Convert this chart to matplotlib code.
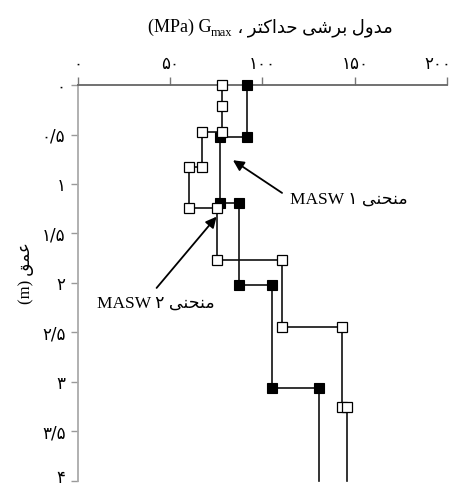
import matplotlib as mp
mp.use('Agg')
import matplotlib.pyplot as plt
from matplotlib.transforms import IdentityTransform, ScaledTranslation

plt.rcParams['font.family'] = ['Liberation Serif', 'DejaVu Sans']

# step profiles: shear modulus (MPa) against depth (m)
masw1_gmax = [91.4, 91.4, 77, 77, 87.4, 87.4, 105, 105, 130.8, 130.8]
masw1_depth = [0, 0.53, 0.53, 1.19, 1.19, 2.02, 2.02, 3.06, 3.06, 4.0]
masw2_gmax = [78, 78, 78, 67, 67, 60.3, 60.3, 75.1, 75.1, 110.4, 110.4, 142.9, 142.9, 146, 146]
masw2_depth = [0, 0.21, 0.47, 0.47, 0.83, 0.83, 1.24, 1.24, 1.77, 1.77, 2.44, 2.44, 3.25, 3.25, 4.0]

x_ticks = [0, 50, 100, 150, 200]
x_labels = ['\u06f0', '\u06f5\u06f0', '\u06f1\u06f0\u06f0', '\u06f1\u06f5\u06f0', '\u06f2\u06f0\u06f0']
y_ticks = [0, 0.5, 1, 1.5, 2, 2.5, 3, 3.5, 4]
y_labels = ['\u06f0', '\u06f0/\u06f5', '\u06f1', '\u06f1/\u06f5', '\u06f2', '\u06f2/\u06f5',
            '\u06f3', '\u06f3/\u06f5', '\u06f4']

# persian words written in presentation forms, left-to-right visual order
w_curve = '\ufef0\ufee8\ufea4\ufee8\ufee3'          # منحنی
w_depth = '\ufed6\ufee4\ufecb'                      # عمق
w_title = ('\u060c \ufeae\ufe98\ufb90\ufe8d\ufeaa\ufea3 '   # ، حداکثر
           '\ufef0\ufeb7\ufeae\ufe91 '                   # برشی
           '\ufedd\ufeed\ufeaa\ufee3')                   # مدول

fig = plt.figure(figsize=(4.55, 4.86), dpi=100)
ax = fig.add_axes([0.1714, 0.0103, 0.8110, 0.8148])

ax.plot(masw1_gmax, masw1_depth, '-s', color='#111111', lw=1.2, ms=6.8,
        mfc='black', mec='black', mew=0.8, markevery=list(range(len(masw1_gmax) - 1)),
        clip_on=False, zorder=3)
ax.plot(masw2_gmax, masw2_depth, '-s', color='#111111', lw=1.2, ms=6.8,
        mfc='white', mec='black', mew=0.9, markevery=list(range(len(masw2_gmax) - 1)),
        clip_on=False, zorder=4)

ax.set_xlim(0, 200)
ax.set_ylim(4, 0)
ax.xaxis.tick_top()
ax.set_xticks(x_ticks)
ax.set_xticklabels(x_labels, fontsize=12, family='DejaVu Sans')
ax.set_yticks(y_ticks)
ax.set_yticklabels(y_labels, fontsize=12, family='DejaVu Sans')
ax.tick_params(axis='x', direction='out', length=6, width=1, color='#777777', pad=3)
ax.tick_params(axis='y', direction='out', length=5, width=1, color='#999999', pad=4)
for side in ['right', 'bottom']:
    ax.spines[side].set_visible(False)
ax.spines['top'].set_color('#666666')
ax.spines['top'].set_linewidth(1.3)
ax.spines['left'].set_color('#aaaaaa')
ax.spines['left'].set_linewidth(1.3)

# keep the end labels inside the figure
last_x = ax.get_xticklabels()[-1]
last_x.set_transform(last_x.get_transform() + ScaledTranslation(-0.09, 0, fig.dpi_scale_trans))
last_y = ax.get_yticklabels()[-1]
last_y.set_transform(last_y.get_transform() + ScaledTranslation(0, 0.05, fig.dpi_scale_trans))

ax.set_ylabel('(m) ' + w_depth, fontsize=12)
ax.yaxis.set_label_coords(-0.12, 0.525)

# labels and leader arrows for the two curves
ax.text(115, 1.16, 'MASW \u06f1 ' + w_curve, fontsize=12.5, va='center', ha='left')
ax.annotate('', xy=(84, 0.76), xytext=(110.6, 1.09),
            arrowprops=dict(arrowstyle='-|>', color='black', lw=1.3,
                            mutation_scale=16, shrinkA=0, shrinkB=0))
ax.text(10.3, 2.21, 'MASW \u06f2 ' + w_curve, fontsize=12.5, va='center', ha='left')
ax.annotate('', xy=(75.1, 1.33), xytext=(42.6, 2.05),
            arrowprops=dict(arrowstyle='-|>', color='black', lw=1.3,
                            mutation_scale=16, shrinkA=0, shrinkB=0))

# title built from pieces so the subscript sits next to G
parts = [('(MPa) G', 13, 0), ('max', 9, -4), (' ' + w_title, 13, 0)]
renderer = fig.canvas.get_renderer()
texts = []
widths = []
for s, size, dy in parts:
    t = fig.text(0, 0, s, fontsize=size, transform=IdentityTransform(), va='baseline')
    texts.append((t, dy))
    widths.append(t.get_window_extent(renderer).width)
x0 = 270 - sum(widths) / 2
base = 486 - 32
for (t, dy), w in zip(texts, widths):
    t.set_position((x0, base + dy))
    x0 += w

fig.savefig('out.png', dpi=100)
